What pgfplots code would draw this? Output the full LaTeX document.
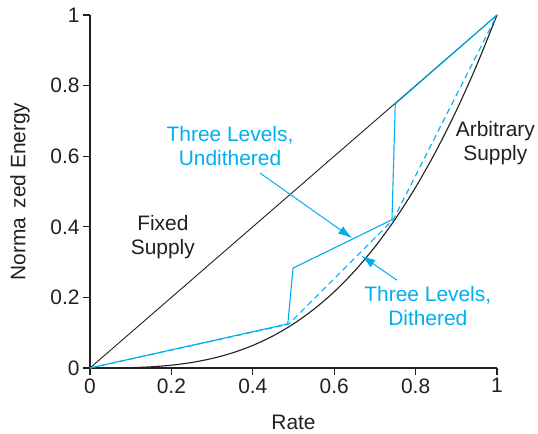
\documentclass[border=0pt]{standalone}
\usepackage{fontspec}
\setmainfont{Liberation Sans}
\usepackage{pgfplots}
\pgfplotsset{compat=1.18}
\usetikzlibrary{arrows.meta}
\definecolor{cyanb}{RGB}{0,174,239}
\definecolor{ink}{RGB}{35,31,32}
\begin{document}
\begin{tikzpicture}
\begin{axis}[
  at={(0,0)}, anchor=south west,
  scale only axis, width=407bp, height=353bp,
  xmin=0, xmax=1, ymin=0, ymax=1,
  axis x line=bottom, axis y line=left,
  axis line style={-, ink, line width=1.2bp},
  tick align=outside, major tick length=7bp,
  tick style={ink, line width=1.2bp},
  xtick={0,0.2,0.4,0.6,0.8,1}, ytick={0,0.2,0.4,0.6,0.8,1},
  xticklabels={0,0.2,0.4,0.6,0.8,1},
  yticklabels={0,0.2,0.4,0.6,0.8,1},
  ticklabel style={font=\fontsize{21}{25}\selectfont, text=ink},
  /pgf/number format/assume math mode=true,
  xlabel={Rate}, ylabel={Norma\hspace{0.44em}zed Energy},
  label style={font=\fontsize{21}{25}\selectfont, text=ink},
  xlabel style={at={(axis description cs:0.5,-0.153)}, anchor=center},
  ylabel style={at={(axis description cs:-0.172,0.5)}, anchor=center},
  clip=false,
]
% Fixed supply
\addplot[ink, line width=0.9bp] coordinates {(0,0) (1,1)};
% Arbitrary supply
\addplot[ink, line width=1.1bp, smooth] coordinates {
(0,0) (0.05,0.000125) (0.1,0.001) (0.15,0.003375) (0.2,0.008) (0.25,0.015625)
(0.3,0.027) (0.35,0.042875) (0.4,0.064) (0.45,0.091125) (0.5,0.125)
(0.55,0.166375) (0.6,0.216) (0.65,0.274625) (0.7,0.343) (0.75,0.421875)
(0.8,0.512) (0.85,0.614125) (0.9,0.729) (0.95,0.857375) (1,1)};
% Three levels, dithered
\addplot[cyanb, line width=1.1bp, dash pattern=on 6bp off 4bp] coordinates {
(0,0) (0.488,0.124) (0.745,0.42) (1,1)};
% Three levels, undithered
\addplot[cyanb, line width=1.1bp] coordinates {
(0,0) (0.486,0.125) (0.499,0.283) (0.742,0.42) (0.750,0.748) (1,1)};
% Annotations
\node[align=center, text=ink, font=\fontsize{21}{24}\selectfont] at (axis cs:0.179,0.371) {Fixed\\Supply};
\node[align=center, text=ink, font=\fontsize{21}{24}\selectfont] at (axis cs:0.996,0.637) {Arbitrary\\Supply};
\node[align=center, text=cyanb, font=\fontsize{21}{24}\selectfont] at (axis cs:0.344,0.629) {Three Levels,\\Undithered};
\node[align=center, text=cyanb, font=\fontsize{21}{24}\selectfont] at (axis cs:0.830,0.176) {Three Levels,\\Dithered};
\draw[cyanb, line width=1bp, -{Latex[length=14bp,width=9bp]}] (axis cs:0.418,0.552) -- (axis cs:0.644,0.368);
\draw[cyanb, line width=1bp, -{Latex[length=14bp,width=9bp]}] (axis cs:0.754,0.249) -- (axis cs:0.667,0.318);
\end{axis}
\pgfresetboundingbox
\path (-90bp,-66bp) rectangle (448bp,368bp);
\end{tikzpicture}
\end{document}
